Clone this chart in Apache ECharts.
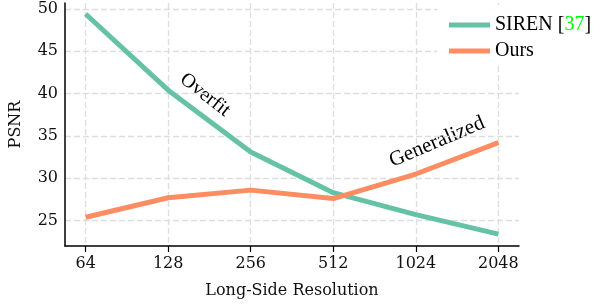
<!DOCTYPE html>
<html><head><meta charset="utf-8">
<script src="https://cdn.jsdelivr.net/npm/echarts@6/dist/echarts.min.js"></script>
<style>html,body{margin:0;padding:0;background:#fff}#c{width:600px;height:304px}</style>
</head><body><div id="c"></div>
<script>
const categories = ['64', '128', '256', '512', '1024', '2048'];
const sirenValues = [49.4, 40.4, 33.1, 28.3, 25.7, 23.4];
const oursValues = [25.4, 27.7, 28.6, 27.6, 30.5, 34.2];
const yTicks = [25, 30, 35, 40, 45, 50];
const seriesNames = ['SIREN', 'Ours'];

const idx = categories.map((c, i) => i);
const serif = '"DejaVu Serif", serif';
const times = '"Liberation Serif", "Times New Roman", serif';

const chart = echarts.init(document.getElementById('c'), null, {renderer: 'canvas'});
chart.setOption({
  animation: false,
  backgroundColor: '#fff',
  grid: {left: 53, right: 81, top: 3, bottom: 54, containLabel: false},
  xAxis: {
    type: 'value', min: -0.25, max: 5.25,
    name: 'Long-Side Resolution', nameLocation: 'middle', nameGap: 37,
    nameTextStyle: {fontFamily: serif, fontSize: 16, color: '#111'},
    axisLine: {show: true, onZero: false, lineStyle: {color: '#000', width: 1.5}},
    axisTick: {show: true, length: 6, customValues: idx, lineStyle: {color: '#000', width: 1.2}},
    axisLabel: {customValues: idx, margin: 10, fontFamily: serif, fontSize: 16, color: '#111',
      formatter: v => categories[Math.round(v)]},
    splitLine: {show: true, lineStyle: {color: '#dddddd', width: 1.3, type: [6, 3]}}
  },
  yAxis: {
    type: 'value', min: 22, max: 50.7,
    name: 'PSNR', nameLocation: 'middle', nameGap: 41, nameRotate: 90,
    nameTextStyle: {fontFamily: serif, fontSize: 16, color: '#111'},
    axisLine: {show: true, onZero: false, lineStyle: {color: '#000', width: 1.5}},
    axisTick: {show: false, customValues: yTicks},
    axisLabel: {customValues: yTicks, margin: 7, fontFamily: serif, fontSize: 16, color: '#111'},
    splitLine: {show: true, lineStyle: {color: '#dddddd', width: 1.3, type: [6, 3]}}
  },
  legend: {
    left: 437, top: 5, orient: 'vertical', itemGap: 6, itemWidth: 41, itemHeight: 5,
    padding: [10, 6, 5, 12], backgroundColor: 'rgba(255,255,255,0.9)',
    icon: 'rect',
    data: seriesNames,
    textStyle: {fontFamily: times, fontSize: 20, color: '#000', lineHeight: 20,
      rich: {g: {fontFamily: times, fontSize: 20, color: '#00ff00', lineHeight: 20}}},
    formatter: n => n === 'SIREN' ? 'SIREN [{g|37}]' : n
  },
  series: [
    {name: 'SIREN', type: 'line', symbol: 'none', itemStyle: {color: '#66c2a5'},
     lineStyle: {color: '#66c2a5', width: 5}, data: sirenValues.map((v, i) => [i, v])},
    {name: 'Ours', type: 'line', symbol: 'none', itemStyle: {color: '#fc8d62'},
     lineStyle: {color: '#fc8d62', width: 5}, data: oursValues.map((v, i) => [i, v])}
  ],
  graphic: [
    {type: 'text', x: 205, y: 95, rotation: -38 * Math.PI / 180,
     style: {text: 'Overfit', font: '20px ' + times, fill: '#000', textAlign: 'center', textVerticalAlign: 'middle'}},
    {type: 'text', x: 437, y: 142, rotation: 23 * Math.PI / 180,
     style: {text: 'Generalized', font: '21px ' + times, fill: '#000', textAlign: 'center', textVerticalAlign: 'middle'}}
  ]
});
</script></body></html>
